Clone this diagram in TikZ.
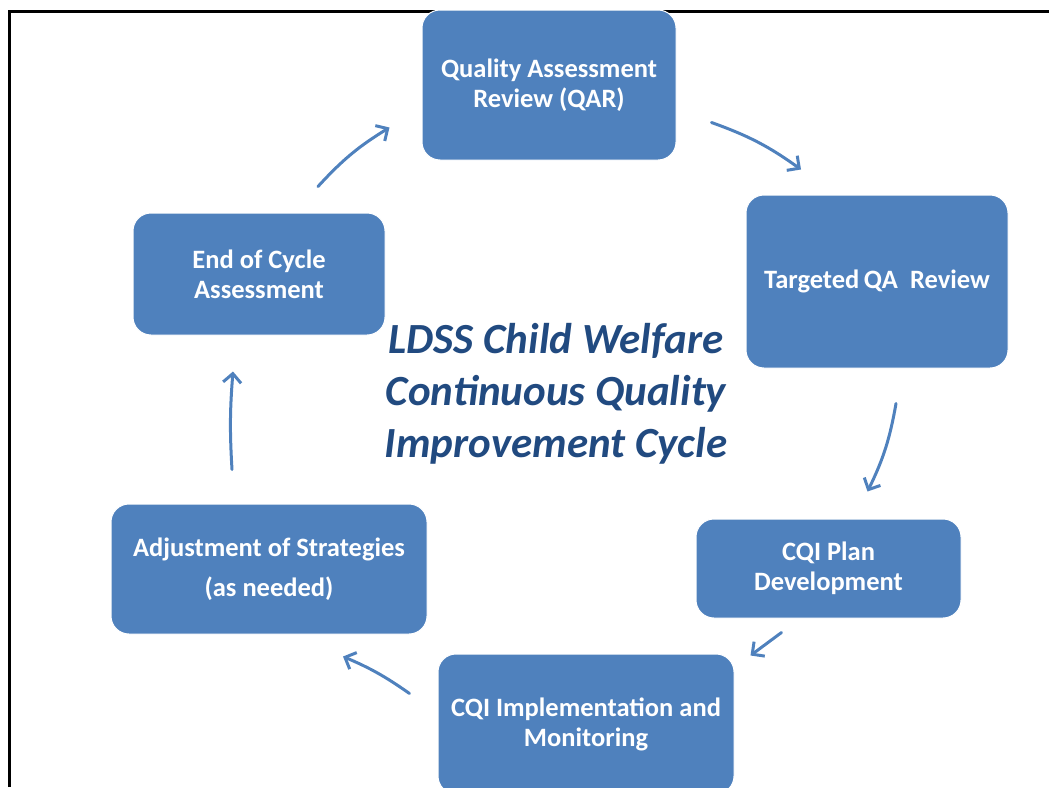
\documentclass[tikz,border=0pt]{standalone}
\usepackage{fontspec}
\setmainfont{Carlito}
\usetikzlibrary{arrows.meta}

\definecolor{boxblue}{RGB}{79,129,189}
\definecolor{titleblue}{RGB}{33,74,128}

\tikzset{
  stage/.style={rectangle, rounded corners=18pt, fill=boxblue, draw=white, line width=1pt,
    text=white, font=\fontsize{26.5}{30}\selectfont\bfseries, align=center, inner sep=0pt},
  cyc/.style={boxblue, line width=3pt, line cap=round,
    -{Straight Barb[length=9pt, width=18pt, line width=3pt]}}
}

\begin{document}
\begin{tikzpicture}[x=1pt,y=-1pt]
        \useasboundingbox (0,0) rectangle (1049,787);

        % Frame (only top and left edge are visible)
        \draw[line width=3.5pt] (9.5,787) -- (9.5,11.5) -- (1049,11.5);

        % Stages of the cycle
        \node[stage, minimum width=254pt, minimum height=150pt] (qar) at (549,85)
          {Quality Assessment\\Review (QAR)};
        \node[stage, minimum width=262pt, minimum height=173pt] (targeted) at (877,281.5)
          {Targeted\,QA\ \ Review};
        \node[stage, minimum width=265pt, minimum height=99pt] (plan) at (828.5,568.5)
          {CQI Plan\\Development};
        \node[stage, minimum width=296pt, minimum height=140pt] (impl) at (586,724)
          {CQI Implementation and\\Monitoring};
        \node[stage, minimum width=316pt, minimum height=130pt] (adjust) at (269,569)
          {Adjustment of Strategies\\[10pt](as needed)};
        \node[stage, minimum width=252pt, minimum height=122pt] (endcycle) at (259,274)
          {End of Cycle\\Assessment};

        % Title in the middle
        \node[text=titleblue, font=\fontsize{43}{52}\selectfont\bfseries\itshape, align=center]
          (title) at (556,394) {LDSS Child Welfare\\Continuous Quality\\Improvement Cycle};

        % Arrows between stages
        \draw[cyc] ([xshift=59pt,yshift=26pt]endcycle.north) to[bend left=8]
          ([xshift=-32pt,yshift=33pt]qar.south west);
        \draw[cyc] ([xshift=35pt,yshift=38pt]qar.south east) to[bend left=8]
          ([xshift=-76pt,yshift=25pt]targeted.north);
        \draw[cyc] ([xshift=19pt,yshift=-35pt]targeted.south) to[bend left=8]
          ([xshift=39pt,yshift=27pt]plan.north);
        \draw[cyc] ([xshift=-47pt,yshift=-14pt]plan.south) to
          ([xshift=16pt,yshift=-2pt]impl.north east);
        \draw[cyc] ([xshift=-28pt,yshift=-40pt]impl.north west) to[bend right=6]
          ([xshift=74pt,yshift=-22pt]adjust.south);
        \draw[cyc] ([xshift=-37pt,yshift=34pt]adjust.north) to[bend left=4]
          ([xshift=-26pt,yshift=-36pt]endcycle.south);
      \end{tikzpicture}
\end{document}
